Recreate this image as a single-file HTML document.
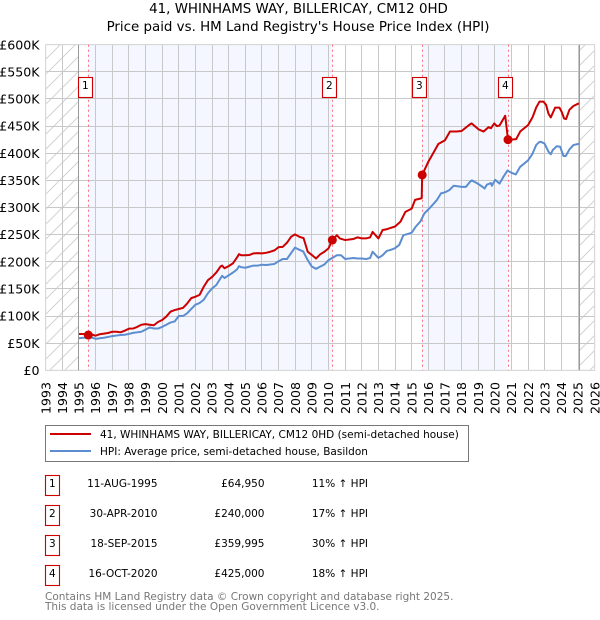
<!DOCTYPE html>
<html lang="en">
<head>
<meta charset="utf-8">
<title>41, WHINHAMS WAY, BILLERICAY, CM12 0HD</title>
<style>
html,body{margin:0;padding:0;background:#fff;width:600px;height:620px;overflow:hidden}
svg{display:block;font-family:"DejaVu Sans",sans-serif}
text{fill:#000}
</style>
</head>
<body>
<svg id="chart" xmlns="http://www.w3.org/2000/svg" width="600" height="620" viewBox="0 0 600 620">
<defs>
<pattern id="hatch" patternUnits="userSpaceOnUse" width="15" height="15">
<path d="M-2 17 L17 -2 M-2 2 L2 -2 M13 17 L17 13" stroke="#d2d2d2" stroke-width="1" fill="none"/>
</pattern>
</defs>
<text x="298.5" y="13" text-anchor="middle" font-size="13.4">41, WHINHAMS WAY, BILLERICAY, CM12 0HD</text>
<text x="298" y="31" text-anchor="middle" font-size="13.4">Price paid vs. HM Land Registry's House Price Index (HPI)</text>
<g id="plot"></g>
<g>
<rect x="45.5" y="425.5" width="423" height="36" fill="#fff" stroke="#777" stroke-width="1"/>
<line x1="50" x2="91" y1="434" y2="434" stroke="#cc0000" stroke-width="2"/>
<text x="100" y="438" font-size="10.5">41, WHINHAMS WAY, BILLERICAY, CM12 0HD (semi-detached house)</text>
<line x1="50" x2="91" y1="451" y2="451" stroke="#5b8dd0" stroke-width="2"/>
<text x="100" y="455" font-size="10.5">HPI: Average price, semi-detached house, Basildon</text>
</g>
<g font-size="10.5">
<g>
<rect x="45.5" y="475.5" width="14" height="20" fill="#fff" stroke="#cc0000" stroke-width="1.1"/>
<text x="52.3" y="487" text-anchor="middle">1</text>
<text x="157.5" y="487" text-anchor="end">11-AUG-1995</text>
<text x="264.5" y="487" text-anchor="end">£64,950</text>
<text x="368" y="487" text-anchor="end">11% ↑ HPI</text>
</g>
<g>
<rect x="45.5" y="505.5" width="14" height="20" fill="#fff" stroke="#cc0000" stroke-width="1.1"/>
<text x="52.3" y="517" text-anchor="middle">2</text>
<text x="157.5" y="517" text-anchor="end">30-APR-2010</text>
<text x="264.5" y="517" text-anchor="end">£240,000</text>
<text x="368" y="517" text-anchor="end">17% ↑ HPI</text>
</g>
<g>
<rect x="45.5" y="535.5" width="14" height="20" fill="#fff" stroke="#cc0000" stroke-width="1.1"/>
<text x="52.3" y="547" text-anchor="middle">3</text>
<text x="157.5" y="547" text-anchor="end">18-SEP-2015</text>
<text x="264.5" y="547" text-anchor="end">£359,995</text>
<text x="368" y="547" text-anchor="end">30% ↑ HPI</text>
</g>
<g>
<rect x="45.5" y="565.5" width="14" height="20" fill="#fff" stroke="#cc0000" stroke-width="1.1"/>
<text x="52.3" y="577" text-anchor="middle">4</text>
<text x="157.5" y="577" text-anchor="end">16-OCT-2020</text>
<text x="264.5" y="577" text-anchor="end">£425,000</text>
<text x="368" y="577" text-anchor="end">18% ↑ HPI</text>
</g>
</g>
<text x="45" y="600" font-size="10.5" style="fill:#777">Contains HM Land Registry data © Crown copyright and database right 2025.</text>
<text x="45" y="610" font-size="10.5" style="fill:#777">This data is licensed under the Open Government Licence v3.0.</text>
</svg>
<script>
const yearTicks = [1993,1994,1995,1996,1997,1998,1999,2000,2001,2002,2003,2004,2005,2006,2007,2008,2009,2010,2011,2012,2013,2014,2015,2016,2017,2018,2019,2020,2021,2022,2023,2024,2025,2026];
const priceTicks = [0,50,100,150,200,250,300,350,400,450,500,550,600];
const priceTickLabels = ['£0','£50K','£100K','£150K','£200K','£250K','£300K','£350K','£400K','£450K','£500K','£550K','£600K'];
const saleNumbers = [1,2,3,4];
const saleYears = [1995.56,2010.23,2015.63,2020.79];
const salePrices = [64.95,240,359.995,425];
const dataStartYear = 1995;
const dataEndYear = 2025.1;

const hpiYears = [1995,1995.25,1995.5,1995.75,1996,1996.25,1996.5,1996.75,1997,1997.25,1997.5,1997.75,1998,1998.25,1998.5,1998.75,1999,1999.25,1999.5,1999.75,2000,2000.25,2000.5,2000.75,2001,2001.25,2001.5,2001.75,2002,2002.25,2002.5,2002.75,2003,2003.25,2003.6,2003.75,2004,2004.25,2004.5,2004.62,2004.75,2005,2005.25,2005.5,2005.75,2006,2006.25,2006.5,2006.75,2007,2007.25,2007.5,2007.75,2007.98,2008.25,2008.48,2008.75,2009,2009.25,2009.5,2009.75,2010,2010.25,2010.5,2010.75,2011,2011.25,2011.5,2011.75,2012,2012.25,2012.5,2012.65,2013,2013.25,2013.5,2013.75,2014,2014.25,2014.5,2014.75,2015,2015.25,2015.52,2015.76,2016.02,2016.26,2016.52,2016.76,2017,2017.26,2017.52,2018.02,2018.26,2018.52,2018.62,2019.02,2019.26,2019.38,2019.52,2019.76,2019.82,2020.02,2020.28,2020.52,2020.76,2021,2021.26,2021.52,2021.76,2022,2022.26,2022.48,2022.68,2022.76,2022.98,2023.22,2023.36,2023.48,2023.72,2023.92,2024.12,2024.26,2024.48,2024.72,2025.05];
const hpiValues = [59,60,60,60.5,58,59,60,61.5,63,64,65,65.5,67,69,70,71,75,79,77,77,80,84,88,90,100,100,105,113,121,124,130,142,151,157,174,170,175,180,186,192,190,189,191,193,193,194.6,194,195,196,201,205,205,216,226,222,219,203,191,187,191,195,203,207.5,212,212,205,206,207,206,206,205,207,218.5,207,212,220,222,225,231,249,251,253.5,265,274,289,297,305,314,326,328,332,340,338,338,348,350,343,338,335,342,345,340,351,344,357,368,364,361,375,381,387,399,415,421,421,418,403,398,406,413,412,395,395,407,415,417.5];

const priceYears = [1995,1995.25,1995.5,1995.75,1996,1996.25,1996.5,1996.75,1997,1997.25,1997.5,1997.75,1998,1998.25,1998.5,1998.75,1999,1999.25,1999.5,1999.75,2000,2000.25,2000.5,2000.75,2001,2001.25,2001.5,2001.75,2002,2002.25,2002.5,2002.75,2003,2003.25,2003.5,2003.6,2003.75,2004,2004.25,2004.5,2004.62,2004.75,2005,2005.25,2005.5,2005.75,2006,2006.25,2006.5,2006.75,2007,2007.25,2007.5,2007.75,2007.98,2008.25,2008.5,2008.75,2009,2009.25,2009.5,2009.75,2010,2010.23,2010.5,2010.68,2011,2011.25,2011.5,2011.75,2012,2012.25,2012.5,2012.65,2013,2013.25,2013.5,2014,2014.33,2014.62,2015,2015.2,2015.6,2015.63,2016,2016.4,2016.6,2017,2017.3,2017.7,2018,2018.45,2018.6,2019.02,2019.32,2019.62,2019.76,2019.96,2020.12,2020.28,2020.62,2020.79,2021,2021.28,2021.52,2021.76,2022,2022.26,2022.48,2022.68,2022.92,2023.08,2023.22,2023.36,2023.62,2023.88,2024.02,2024.16,2024.28,2024.48,2024.72,2025.05];
const priceValues = [67,67,65,66,63.8,66.5,67.5,68.7,71,71,70,73,76.7,77,80,84,85,84,83,89,92.7,99,108,111,113,115,123,133,135.6,139,154,166,172,180,191,193,188,192,197,208,214,212,212,212.5,215.5,216,215.5,216.5,218.5,221,227,227.5,235,246,250.5,246,243.6,218.5,212.4,206,213.7,218.5,224.7,240,249,243,240,241,242,245,243,243,245,255,243,258.5,260,265,274,292,298,314,317,360,384.4,406,417,424,440,440,441,452,455,444,440,448,446,455,450,451,469,425,425,426,440,446,452,466,484,495,495,489,473,466,484,484,476,464,463,480,487,492];

const plot = document.getElementById('plot');
const NS = 'http://www.w3.org/2000/svg';
const LEFT = 45.7, RIGHT = 594.7, TOP = 44.7, BOTTOM = 370.3;
const YEAR_MIN = 1993, YEAR_MAX = 2026, PRICE_MAX = 600;
function xAxis(year){ return LEFT + (year - YEAR_MIN) * (RIGHT - LEFT) / (YEAR_MAX - YEAR_MIN); }
function yAxis(price){ return BOTTOM - price * (BOTTOM - TOP) / PRICE_MAX; }
function snap(v){ return Math.floor(v) + 0.5; }
function make(tag, attrs){
  const el = document.createElementNS(NS, tag);
  for (const k in attrs) el.setAttribute(k, attrs[k]);
  return el;
}
function pathFrom(xs, ys){
  return xs.map(function(v, i){ return (i ? 'L' : 'M') + xAxis(v).toFixed(2) + ' ' + yAxis(ys[i]).toFixed(2); }).join(' ');
}

// alternating sale bands
[[0,1],[2,3]].forEach(function(pair, i){
  const band = make('rect', {x: xAxis(saleYears[pair[0]]), y: TOP, width: xAxis(saleYears[pair[1]]) - xAxis(saleYears[pair[0]]), height: BOTTOM - TOP, fill: '#f4f7ff'});
  
  
  plot.appendChild(band);
});

// out-of-range hatching
[[YEAR_MIN, dataStartYear],[dataEndYear, YEAR_MAX]].forEach(function(r){
  const h = make('rect', {x: xAxis(r[0]), y: TOP, width: xAxis(r[1]) - xAxis(r[0]), height: BOTTOM - TOP, fill: 'url(#hatch)'});
  
  
  plot.appendChild(h);
});

// vertical grid + year labels
yearTicks.forEach(function(yr){
  const px = xAxis(yr);
  const gl = make('line', {x1: snap(px), x2: snap(px), y1: TOP, y2: BOTTOM, stroke: '#c8c8c8', 'stroke-width': 1});
  
  
  plot.appendChild(gl);
  const t = make('text', {transform: 'translate(' + (px + 4.6) + ',414) rotate(-90)', 'font-size': 12.6});
  
  
  t.textContent = yr;
  plot.appendChild(t);
});

// horizontal grid + price labels
priceTicks.forEach(function(p, i){
  const py = yAxis(p);
  const gl = make('line', {x1: LEFT, x2: RIGHT, y1: snap(py), y2: snap(py), stroke: '#c8c8c8', 'stroke-width': 1});
  
  
  plot.appendChild(gl);
  const t = make('text', {x: 39.5, y: py + 4.6, 'text-anchor': 'end', 'font-size': 12.6});
  
  
  t.textContent = priceTickLabels[i];
  plot.appendChild(t);
});

// plot frame
const frame = make('rect', {x: LEFT, y: TOP, width: RIGHT - LEFT, height: BOTTOM - TOP, fill: 'none', stroke: '#dcdcdc', 'stroke-width': 1});


plot.appendChild(frame);

// data range boundaries
[dataStartYear, dataEndYear].forEach(function(yr){
  const b = make('line', {x1: snap(xAxis(yr)), x2: snap(xAxis(yr)), y1: TOP, y2: BOTTOM, stroke: '#999', 'stroke-width': 1});
  
  
  plot.appendChild(b);
});

// sale vertical dashed lines
saleYears.forEach(function(yr){
  const v = make('line', {x1: snap(xAxis(yr)), x2: snap(xAxis(yr)), y1: TOP, y2: BOTTOM, stroke: '#ff6f7f', 'stroke-width': 1, 'stroke-dasharray': '2 3'});
  
  
  plot.appendChild(v);
});

// series
const hpiLine = make('path', {d: pathFrom(hpiYears, hpiValues), fill: 'none', stroke: '#5b8dd0', 'stroke-width': 2, 'stroke-linejoin': 'round'});


plot.appendChild(hpiLine);
const priceLine = make('path', {d: pathFrom(priceYears, priceValues), fill: 'none', stroke: '#cc0000', 'stroke-width': 2, 'stroke-linejoin': 'round'});


plot.appendChild(priceLine);

// sale points and number boxes
saleYears.forEach(function(yr, i){
  const dot = make('circle', {cx: xAxis(yr), cy: yAxis(salePrices[i]), r: 4.5, fill: '#cc0000'});
  
  
  plot.appendChild(dot);
  const boxLeft = Math.max(snap(xAxis(dataStartYear)), snap(xAxis(yr)) - 10);
  const box = make('rect', {x: boxLeft, y: 77.5, width: 14, height: 20, fill: '#fff', stroke: '#cc0000', 'stroke-width': 1.1});
  
  
  plot.appendChild(box);
  const num = make('text', {x: boxLeft + 6.8, y: 89, 'text-anchor': 'middle', 'font-size': 10.5});
  
  
  num.textContent = saleNumbers[i];
  plot.appendChild(num);
});
</script>
</body>
</html>
